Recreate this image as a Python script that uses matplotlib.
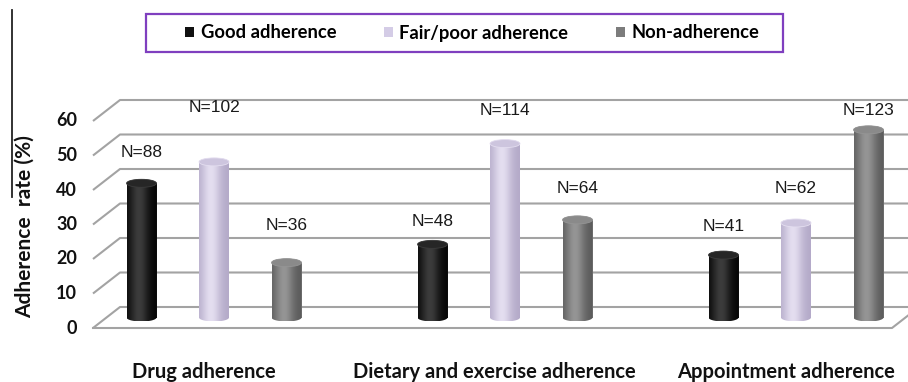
import numpy as np
import matplotlib.pyplot as plt
from matplotlib.patches import Ellipse, Patch, PathPatch, Rectangle
from matplotlib.path import Path
from matplotlib.colors import to_rgb

# adherence by type, percentage of patients (N = number of patients)
categories = ['Drug adherence', 'Dietary and exercise adherence', 'Appointment adherence']
series = ['Good adherence', 'Fair/poor adherence', 'Non-adherence']
good_rate = [38.9, 21.2, 18.1]
fair_rate = [45.1, 50.4, 27.4]
non_rate = [15.9, 28.3, 54.4]
good_n = [88, 48, 41]
fair_n = [102, 114, 62]
non_n = [36, 64, 123]
yticks = [0, 10, 20, 30, 40, 50, 60]

# where the N= labels sit above each cylinder (value units)
good_dy = [8.8, 6.5, 8.4]
fair_dy = [15.9, 9.5, 10.1]
non_dy = [10.9, 9.2, 5.5]

# face colours: base, dark edge, highlight, top cap
styles = [
    ('#111111', '#050505', '#3c3c3c', '#262626'),
    ('#d4cce6', '#b3a9c8', '#e4def0', '#cdc5de'),
    ('#7c7c7c', '#5a5a5a', '#959595', '#8a8a8a'),
]

W, H = 908, 382
fig = plt.figure(figsize=(W / 100, H / 100), dpi=100)
ax = fig.add_axes([0, 0, 1, 1])
ax.set_axis_off()

# one x unit = one category, one y unit = one percent at mid depth
px_x, x0_px = 291.0, 214.0
px_y, y0_px = 3.45, 317.5
xlim = (-x0_px / px_x, (W - x0_px) / px_x)
ylim = ((y0_px - H) / px_y, y0_px / px_y)

ddx, ddy = 13.5 / px_x, 10.5 / px_y   # half depth of the 3d box
left_mid = (106.5 - x0_px) / px_x
right_front = (892 - x0_px) / px_x
grid_col = '#a3a3a3'

# walls and floor
for v in yticks:
    ax.plot([left_mid - ddx, left_mid + ddx, xlim[1] + 0.2], [v - ddy, v + ddy, v + ddy],
            color=grid_col, lw=1.5, zorder=1, solid_capstyle='butt')
ax.plot([left_mid - ddx, right_front, right_front + 2 * ddx], [-ddy, -ddy, ddy],
        color=grid_col, lw=1.5, zorder=1)

for v in yticks:
    ax.text(left_mid - ddx - 16 / px_x, v - ddy, str(v), ha='right', va='center',
            fontsize=13, fontweight='bold', family='Lato', color='#111111')

ax.text((25 - x0_px) / px_x, (y0_px - 227) / px_y, 'Adherence  rate (%)', rotation=90,
        ha='center', va='center', fontsize=15, fontweight='bold', family='Lato',
        color='#111111')

x = np.arange(len(categories))
offset = 72.5 / px_x
bw = 30 / px_x
ry = 4.0 / px_y

rates = [good_rate, fair_rate, non_rate]
counts = [good_n, fair_n, non_n]
dys = [good_dy, fair_dy, non_dy]

t = np.linspace(0, 1, 64)
profile = np.exp(-((t - 0.4) / 0.32) ** 2)

for j, (vals, ns, dy, st) in enumerate(zip(rates, counts, dys, styles)):
    base, edge, hi, cap = st
    bars = ax.bar(x + (j - 1) * offset, vals, width=bw, color=base, zorder=3)
    e, h = np.array(to_rgb(edge)), np.array(to_rgb(hi))
    grad = (e[None, :] + (h - e)[None, :] * profile[:, None])[None, :, :]
    for b, n, d in zip(bars, ns, dy):
        bx0, bwid, bh = b.get_x(), b.get_width(), b.get_height()
        xc = bx0 + bwid / 2
        th = np.linspace(np.pi, 2 * np.pi, 40)
        bottom = np.column_stack([xc + bwid / 2 * np.cos(th), ry * np.sin(th)])
        th2 = np.linspace(0, np.pi, 40)
        top = np.column_stack([xc + bwid / 2 * np.cos(th2), bh + ry * np.sin(th2)])
        verts = np.vstack([bottom, top, bottom[:1]])
        codes = [Path.MOVETO] + [Path.LINETO] * (len(verts) - 2) + [Path.CLOSEPOLY]
        outline = PathPatch(Path(verts, codes), facecolor='none', edgecolor='none')
        ax.add_patch(outline)
        im = ax.imshow(grad, extent=[bx0, bx0 + bwid, -ry, bh + ry], aspect='auto',
                       origin='lower', zorder=4, interpolation='bilinear')
        im.set_clip_path(outline)
        ax.add_patch(Ellipse((xc, bh), bwid, 2 * ry, facecolor=cap,
                             edgecolor=hi, lw=0.6, zorder=5))
        ax.text(xc, bh + d, f'N={n}', ha='center', va='center', fontsize=12.5,
                family='Liberation Sans', color='#1a1a1a', zorder=6)

for i, c in enumerate(categories):
    ax.text(i - 0.035, (y0_px - 372) / px_y, c, ha='center', va='center',
            fontsize=14.5, fontweight='bold', family='Lato', color='#111111')

# legend with its own purple frame
handles = [Patch(facecolor=st[0], edgecolor='none') for st in styles]
leg = fig.legend(handles, series, loc='center left', bbox_to_anchor=(185 / W, 1 - 33 / H),
                 ncol=3, frameon=False, borderpad=0, borderaxespad=0,
                 handlelength=0.5, handleheight=0.5, handletextpad=0.35,
                 columnspacing=2.6, prop={'family': 'Lato', 'weight': 'bold', 'size': 13.2})
fig.add_artist(Rectangle((146 / W, 1 - 52 / H), (783 - 146) / W, 38 / H,
                         transform=fig.transFigure, facecolor='none',
                         edgecolor='#7f3fbf', lw=1.6))

# stray frame edge along the left
ax.plot([(12 - x0_px) / px_x] * 2, [(y0_px - 10) / px_y, (y0_px - 197) / px_y],
        color='#222222', lw=1.3)

ax.set_xlim(*xlim)
ax.set_ylim(*ylim)
fig.savefig('out.png', dpi=100)
